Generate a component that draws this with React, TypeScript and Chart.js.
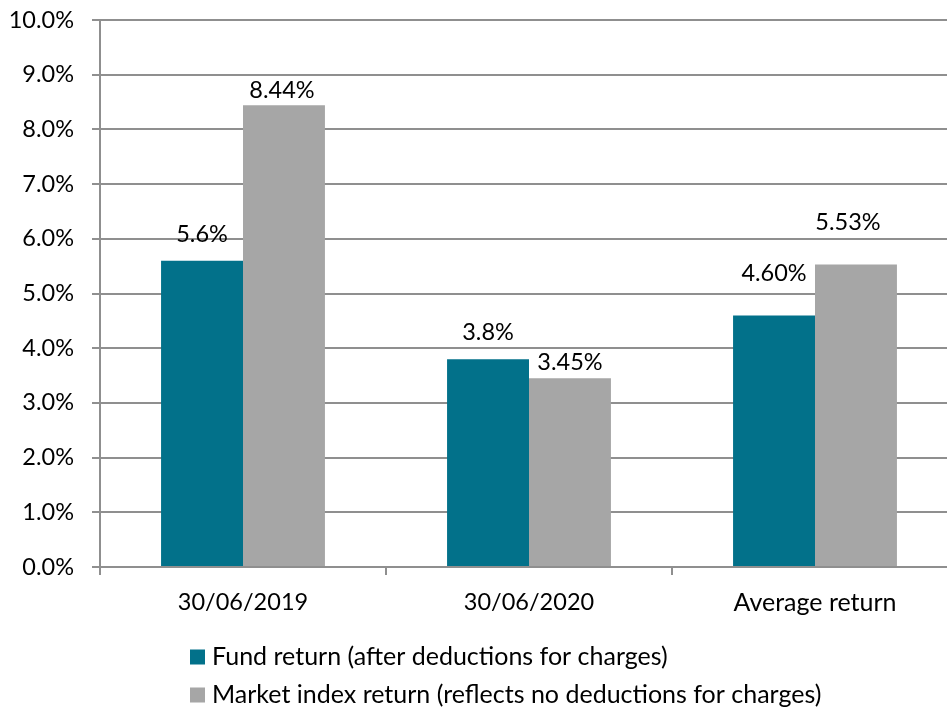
import React, { useEffect, useRef } from "react";
import { Chart, registerables } from "chart.js";

Chart.register(...registerables);

const categories = ["30/06/2019", "30/06/2020", "Average return"];
const fundReturn = [5.6, 3.8, 4.6];
const marketReturn = [8.44, 3.45, 5.53];
const fundLabels = ["5.6%", "3.8%", "4.60%"];
const marketLabels = ["8.44%", "3.45%", "5.53%"];
const seriesNames = [
  "Fund return (after deductions for charges)",
  "Market index return (reflects no deductions for charges)",
];

// label offsets (px, from bar top-centre to text centre)
const labelOffsetsY = [
  [-26, -27, -42],
  [-15, -16, -42],
];
const labelOffsetsX = [
  [0, 0, 0],
  [-2, 0, -8],
];

const FONT = "Lato, 'Liberation Sans', sans-serif";
const NUM_SIZE = 23.5;
const TEXT_SIZE = 25;
const TEAL = "#02718a";
const GREY = "#a6a6a6";
const GRID = "#8f8f8f";

const labelsPlugin = {
  id: "valueLabels",
  afterDatasetsDraw(chart: any) {
    const ctx = chart.ctx;
    const texts = [fundLabels, marketLabels];
    ctx.save();
    ctx.font = `${NUM_SIZE}px ${FONT}`;
    ctx.fillStyle = "#000";
    ctx.textAlign = "center";
    ctx.textBaseline = "middle";
    chart.data.datasets.forEach((_: any, di: number) => {
      const meta = chart.getDatasetMeta(di);
      meta.data.forEach((bar: any, i: number) => {
        ctx.fillText(
          texts[di][i],
          bar.x + labelOffsetsX[di][i],
          bar.y + labelOffsetsY[di][i]
        );
      });
    });
    ctx.restore();
  },
};

const legendPlugin = {
  id: "customLegend",
  afterDraw(chart: any) {
    const ctx = chart.ctx;
    const colors = [TEAL, GREY];
    const ys = [657, 695];
    ctx.save();
    ctx.font = `${TEXT_SIZE}px ${FONT}`;
    ctx.textAlign = "left";
    ctx.textBaseline = "middle";
    seriesNames.forEach((name, i) => {
      ctx.fillStyle = colors[i];
      ctx.fillRect(190, ys[i] - 7.5, 15, 15);
      ctx.fillStyle = "#000";
      ctx.fillText(name, 212, ys[i]);
    });
    ctx.restore();
  },
};

export default function App() {
  const ref = useRef<HTMLCanvasElement>(null);
  useEffect(() => {
    if (!ref.current) return;
    const chart = new Chart(ref.current, {
      type: "bar",
      data: {
        labels: categories,
        datasets: [
          {
            label: seriesNames[0],
            data: fundReturn,
            backgroundColor: TEAL,
            barPercentage: 1,
            categoryPercentage: 0.573,
          },
          {
            label: seriesNames[1],
            data: marketReturn,
            backgroundColor: GREY,
            barPercentage: 1,
            categoryPercentage: 0.573,
          },
        ],
      },
      options: {
        animation: false,
        responsive: false,
        devicePixelRatio: 1,
        layout: { padding: { top: 20, bottom: 96, left: 0, right: 0 } },
        plugins: {
          legend: { display: false },
          tooltip: { enabled: false },
        },
        scales: {
          x: {
            afterFit: (s: any) => {
              s.height = 48;
              s.paddingLeft = 0;
              s.paddingRight = 0;
            },
            grid: {
              offset: true,
              drawOnChartArea: false,
              drawTicks: true,
              tickLength: 8,
              color: GRID,
              lineWidth: 2,
            },
            border: { color: GRID, width: 2 },
            ticks: {
              color: "#000",
              padding: 13,
              font: (c: any) => ({
                family: FONT,
                size: c.index === 2 ? TEXT_SIZE : NUM_SIZE,
              }),
            },
          },
          y: {
            min: 0,
            max: 10,
            afterFit: (s: any) => {
              s.width = 100;
              s.paddingTop = 0;
              s.paddingBottom = 0;
            },
            grid: {
              color: GRID,
              lineWidth: 2,
              tickLength: 8,
            },
            border: { color: GRID, width: 2 },
            ticks: {
              stepSize: 1,
              padding: 18,
              color: "#000",
              font: { family: FONT, size: NUM_SIZE },
              callback: (v: any) => Number(v).toFixed(1) + "%",
            },
          },
        },
      },
      plugins: [labelsPlugin, legendPlugin],
    });
    return () => chart.destroy();
  }, []);
  return (
    <div
      style={{
        position: "fixed",
        left: 0,
        top: 0,
        width: 947,
        height: 711,
        overflow: "hidden",
        background: "#fff",
      }}
    >
      <canvas ref={ref} width={958} height={711} style={{ display: "block" }} />
    </div>
  );
}
